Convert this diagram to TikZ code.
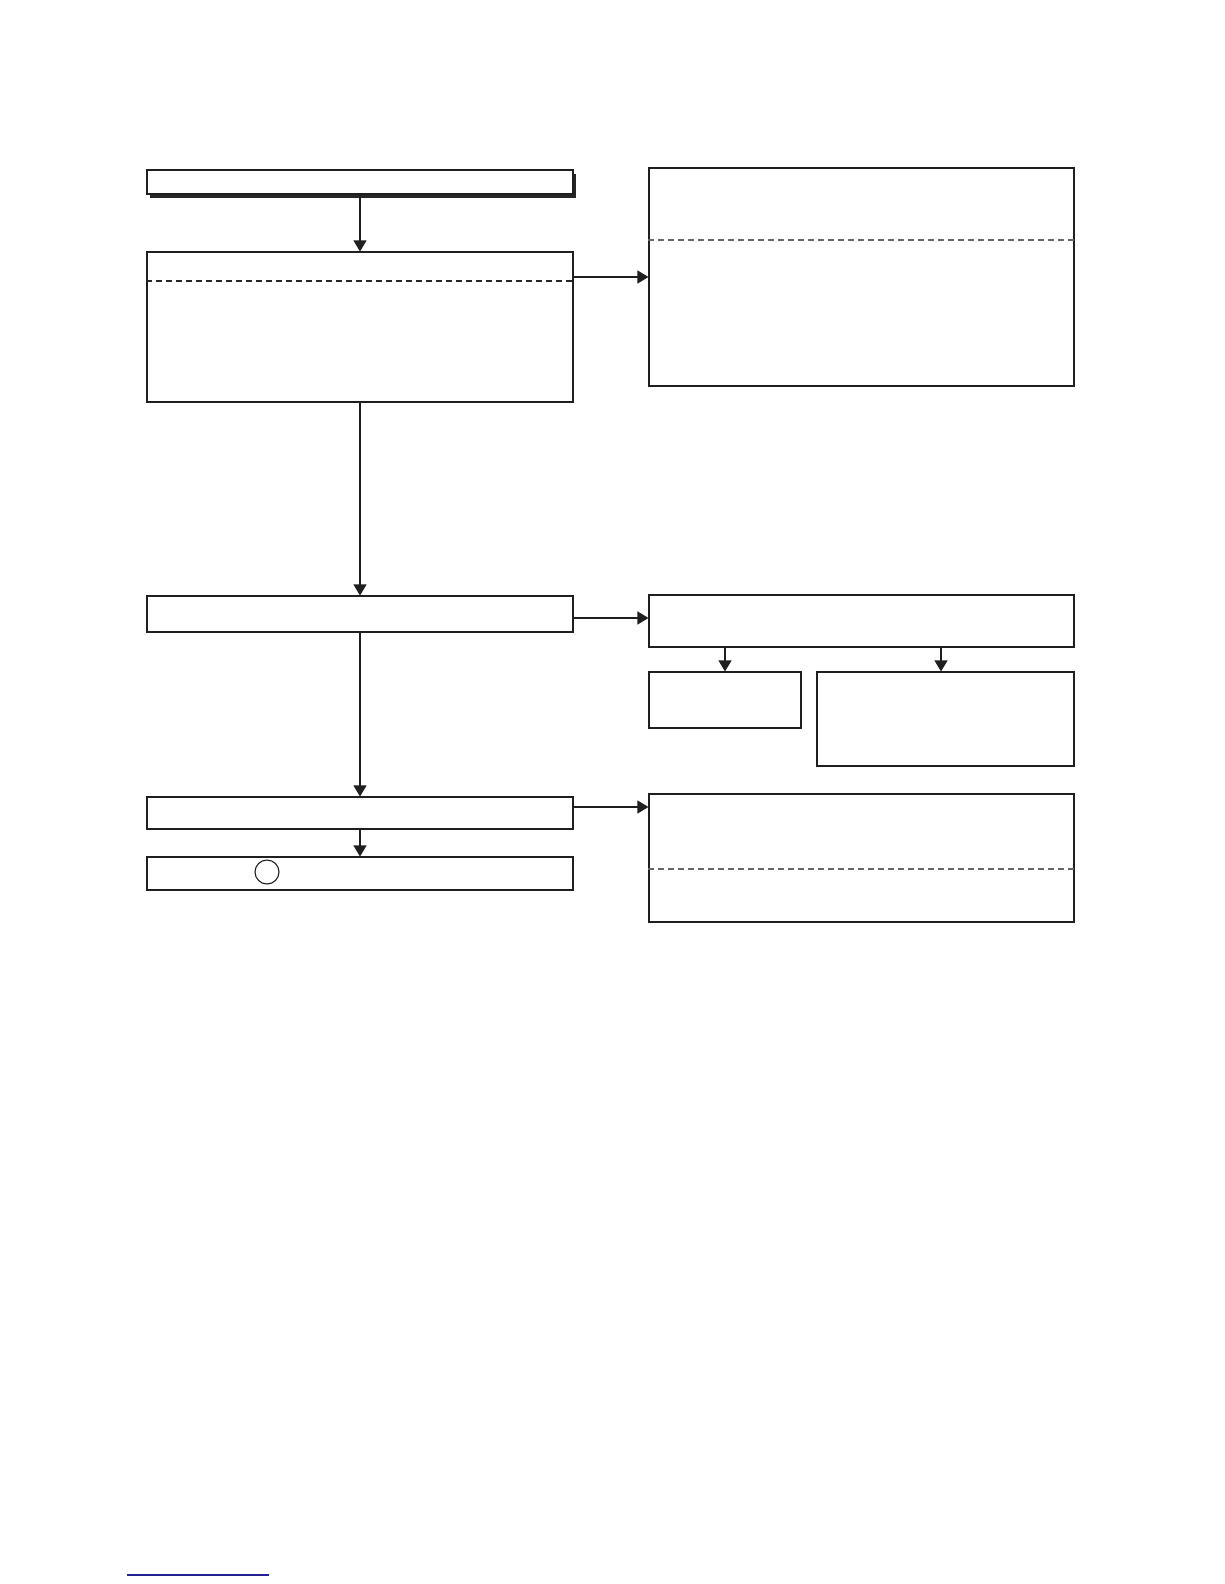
\documentclass[tikz,border=0pt]{standalone}
\usetikzlibrary{arrows.meta,shadows}
\definecolor{linkblue}{RGB}{35,35,150}
\begin{document}
\begin{tikzpicture}[x=1pt,y=-1pt,
  box/.style={draw=black!88,line width=1.1pt,fill=white,inner sep=0pt,minimum width=426pt},
  arr/.style={draw=black!88,line width=1.1pt,-{Triangle[length=11pt,width=13pt]}},
  sepline/.style={draw=black!60,line width=1.1pt,dash pattern=on 6pt off 4pt},
  conn/.style={draw=black!88,line width=1.1pt}]
\useasboundingbox (0,0) rectangle (1224,1584);
% left column
\node[box,minimum height=24pt,drop shadow={shadow xshift=3pt,shadow yshift=-4pt,fill=black!85,opacity=1}] (A) at (360,182) {};
\node[box,minimum height=150pt] (B) at (360,327) {};
\node[box,minimum height=36pt] (C) at (360,614) {};
\node[box,minimum height=32pt] (D) at (360,813) {};
\node[box,minimum height=33pt] (E) at (360,873.5) {};
\node[draw=black!88,line width=1.1pt,circle,minimum size=24pt,inner sep=0pt] (circ) at (267,872) {};
% right column
\node[box,minimum width=425pt,minimum height=218pt] (I) at (861.5,277) {};
\node[box,minimum width=425pt,minimum height=52pt] (F) at (861.5,621) {};
\node[box,minimum width=152pt,minimum height=56pt] (G) at (725,700) {};
\node[box,minimum width=257pt,minimum height=94pt] (H) at (945.5,719) {};
\node[box,minimum width=425pt,minimum height=128pt] (J) at (861.5,858) {};
% dashed separators
\draw[sepline,draw=black!85] (B.west |- 0,281) -- (B.east |- 0,281);
\draw[sepline] (I.west |- 0,240) -- (I.east |- 0,240);
\draw[sepline] (J.west |- 0,869) -- (J.east |- 0,869);
% connectors
\draw[arr] (A.south) -- (B.north);
\draw[arr] (B.south) -- (C.north);
\draw[arr] (C.south) -- (D.north);
\draw[arr] (D.south) -- (E.north);
\draw[arr] (B.east |- I.west) -- (I.west);
\draw[arr] (C.east |- 0,618) -- (F.west |- 0,618);
\draw[arr] (D.east |- 0,807) -- (J.west |- 0,807);
\draw[arr] (F.south -| G.north) -- (G.north);
\draw[arr] (F.south -| 941,0) -- (H.north -| 941,0);
% blue rule at bottom
\coordinate (l1) at (127,1575);
\coordinate (l2) at (269,1575);
\draw[linkblue,line width=1.5pt] (l1) -- (l2);
\end{tikzpicture}
\end{document}
